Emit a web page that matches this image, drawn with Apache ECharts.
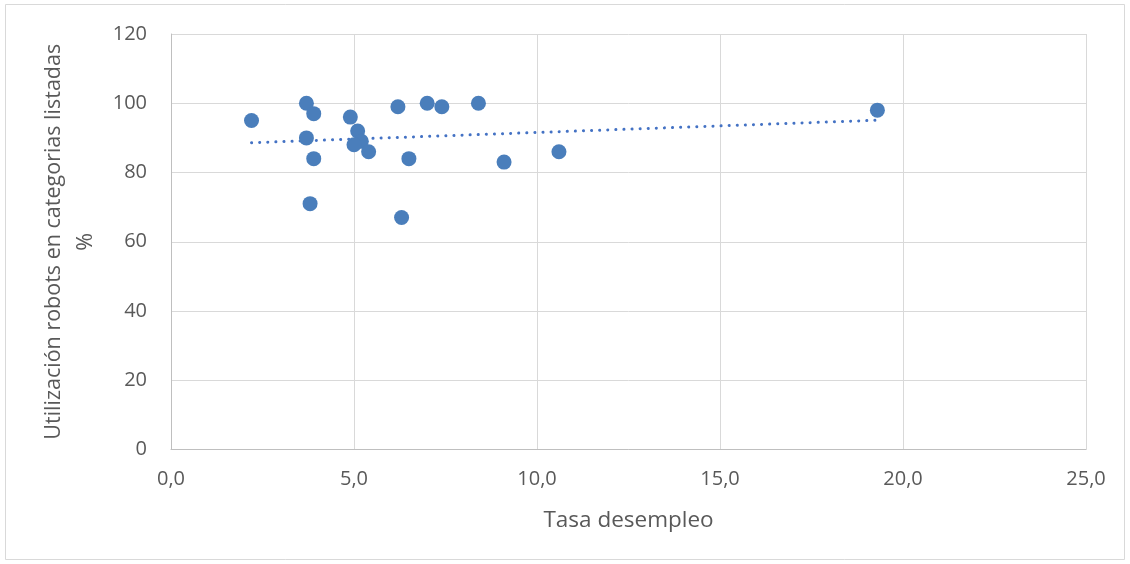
<!DOCTYPE html>
<html>
<head>
<meta charset="utf-8">
<script src="https://cdn.jsdelivr.net/npm/echarts@6/dist/echarts.min.js"></script>
<style>
  html, body { margin: 0; padding: 0; background: #fff; }
  #chart { width: 1130px; height: 564px; }
</style>
</head>
<body>
<div id="chart"></div>
<script>
// Unemployment rate vs. robot use per country
const tasaDesempleo = [2.2, 3.7, 3.9, 3.7, 3.9, 3.8, 4.9, 5.1, 5.2, 5.0, 5.4, 6.2, 7.0, 6.5, 6.3, 7.4, 8.4, 9.1, 10.6, 19.3];
const usoRobots     = [95, 100, 97, 90, 84, 71, 96, 92, 89, 88, 86, 99, 100, 84, 67, 99, 100, 83, 86, 98];

// Linear trend line end points
const tendenciaX = [2.2, 19.3];
const tendenciaY = [88.6, 95.1];

const xTicks = { min: 0, max: 25, interval: 5 };
const yTicks = { min: 0, max: 120, interval: 20 };

const puntos = tasaDesempleo.map((x, i) => [x, usoRobots[i]]);
const tendencia = tendenciaX.map((x, i) => [x, tendenciaY[i]]);

const FONT = '"Open Sans", "DejaVu Sans", sans-serif';
const TXT = '#595959';

const chart = echarts.init(document.getElementById('chart'), null, { renderer: 'canvas' });
chart.setOption({
  animation: false,
  backgroundColor: '#ffffff',
  graphic: [{
    type: 'rect',
    shape: { x: 5.5, y: 4.5, width: 1119, height: 555 },
    style: { fill: 'none', stroke: '#d9d9d9', lineWidth: 1 },
    silent: true
  }],
  grid: { left: 171, right: 44, top: 34, bottom: 114.5 },
  xAxis: {
    type: 'value',
    min: xTicks.min, max: xTicks.max, interval: xTicks.interval,
    name: 'Tasa desempleo',
    nameLocation: 'middle',
    nameGap: 60,
    nameTextStyle: { fontFamily: FONT, fontSize: 22.5, color: TXT },
    axisLine: { show: true, lineStyle: { color: '#bfbfbf', width: 1 } },
    axisTick: { show: false },
    axisLabel: {
      fontFamily: FONT, fontSize: 20, color: TXT, margin: 20,
      formatter: v => v.toFixed(1).replace('.', ',')
    },
    splitLine: { show: true, lineStyle: { color: '#d9d9d9', width: 1 } }
  },
  yAxis: {
    type: 'value',
    min: yTicks.min, max: yTicks.max, interval: yTicks.interval,
    name: 'Utilización robots en categorias listadas\n%',
    nameLocation: 'middle',
    nameRotate: 90,
    nameGap: 63,
    nameTextStyle: { fontFamily: FONT, fontSize: 21.5, color: TXT, lineHeight: 32 },
    axisLine: { show: true, lineStyle: { color: '#bfbfbf', width: 1 } },
    axisTick: { show: false },
    axisLabel: { fontFamily: FONT, fontSize: 20, color: TXT, margin: 24 },
    splitLine: { show: true, lineStyle: { color: '#d9d9d9', width: 1 } }
  },
  series: [
    {
      type: 'line',
      data: tendencia,
      symbol: 'none',
      silent: true,
      z: 1,
      lineStyle: { color: '#4472c4', width: 3, type: [0.1, 8], cap: 'round' }
    },
    {
      type: 'scatter',
      data: puntos,
      symbol: 'circle',
      symbolSize: 15,
      z: 2,
      itemStyle: { color: '#4a7ebb', opacity: 1 }
    }
  ]
});
</script>
</body>
</html>
